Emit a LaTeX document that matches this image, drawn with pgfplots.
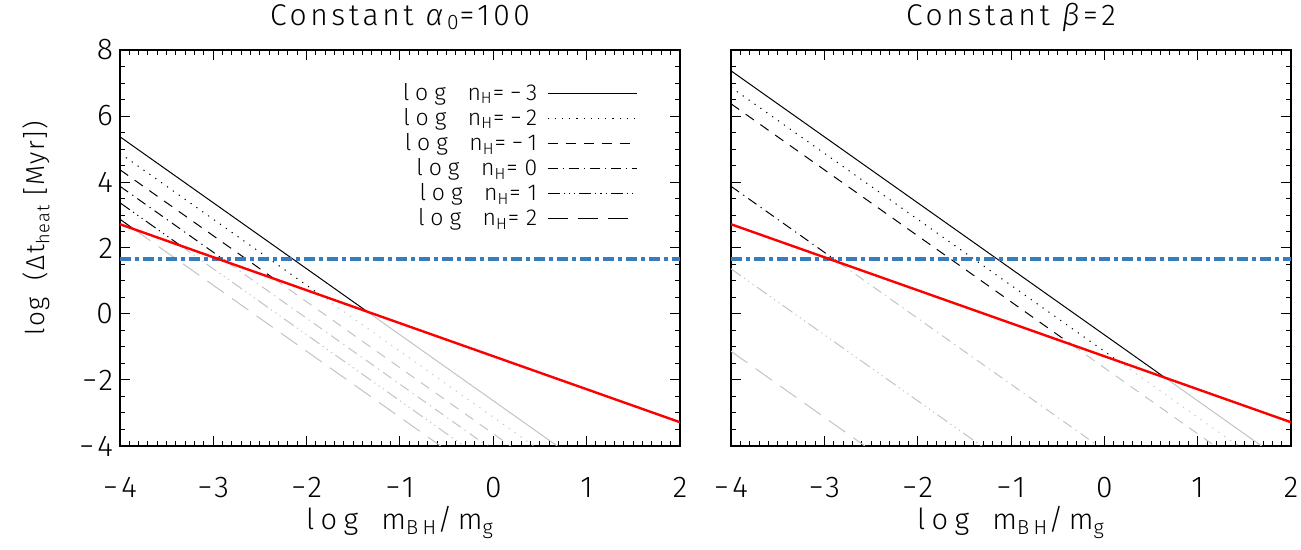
\documentclass[border=0pt]{standalone}
\usepackage{fontspec}
\setmainfont{Fira Sans}[UprightFont=* Light, ItalicFont=* Light Italic]
\newfontfamily\midspaced{Fira Sans}[UprightFont=* Light, ItalicFont=* Light Italic, LetterSpace=6]
\newfontfamily\spaced{Fira Sans}[UprightFont=* Light, ItalicFont=* Light Italic, LetterSpace=12]
\newfontfamily\legfont{Fira Sans}[UprightFont=* Light, ItalicFont=* Light Italic, LetterSpace=22]
\newfontfamily\keyfont{Fira Sans}[UprightFont=* Light, ItalicFont=* Light Italic, LetterSpace=26]
\usepackage{pgfplots}
\pgfplotsset{compat=1.18}
\definecolor{lgray}{RGB}{195,195,195}
\definecolor{idlblue}{RGB}{55,125,190}

\pgfplotsset{
  panel/.style={
    scale only axis, width=280pt, height=198pt,
    xmin=-4, xmax=2, ymin=-4, ymax=8,
    xtick={-4,...,2}, xticklabels={−4,−3,−2,−1,0,1,2},
    ytick={-4,-2,...,8},
    minor x tick num=9, minor y tick num=3,
    tick align=inside, major tick length=5pt, minor tick length=2.5pt,
    axis line style={line width=0.6pt},
    every tick/.style={black, line width=0.5pt},
    tick label style={font=\spaced\fontsize{15}{18}\selectfont},
    xticklabel style={yshift=-12pt},
    title style={font=\spaced\fontsize{15}{18}\selectfont, at={(0.5,1)}, anchor=base, yshift=6.5pt},
    xlabel={log\hspace{0.3em} m\textsubscript{BH}/m\textsubscript{g}},
    xlabel style={at={(axis description cs:0.5,0)}, anchor=base, yshift=-42pt,
      font=\legfont\fontsize{14.5}{17}\selectfont},
  },
  ls0/.style={solid},
  ls1/.style={dash pattern=on 0.6pt off 3pt},
  ls2/.style={dash pattern=on 5pt off 4pt},
  ls3/.style={dash pattern=on 5pt off 2.5pt on 0.6pt off 2.5pt},
  ls4/.style={dash pattern=on 6pt off 2pt on 0.6pt off 2pt on 0.6pt off 2pt on 0.6pt off 2pt},
  ls5/.style={dash pattern=on 10pt off 5pt},
  blk/.style={black, line width=0.5pt, no marks},
  gry/.style={lgray, line width=0.5pt, no marks},
  redl/.style={red, line width=1.2pt, no marks},
  bluel/.style={idlblue, line width=2pt, no marks, dash pattern=on 5.5pt off 2pt on 2pt off 2pt},
}

\begin{document}
\begin{tikzpicture}
% left panel: constant alpha_0
\begin{axis}[panel, at={(0,0)}, anchor=south west,
  title={Constant \textit{α}\textsubscript{0}=100},
  yticklabels={−4,−2,0,2,4,6,8},
  ylabel={log\hspace{0.3em} (Δt\textsubscript{heat} [Myr])},
  ylabel style={at={(axis description cs:-0.15,0.55)}, anchor=center,
    font=\midspaced\fontsize{13}{16}\selectfont},
  legend plot pos=right, legend cell align=right,
  legend image code/.code={\draw[#1] (0pt,0pt) -- (44.5pt,0pt);},
  legend style={draw=none, fill=none, at={(axis cs:1.61,7.25)}, anchor=north east,
    font=\keyfont\fontsize{11.5}{12}\selectfont, row sep=-1.5pt},
]
\addlegendimage{blk,ls0}\addlegendentry{log\hspace{0.4em} n\textsubscript{H}=−3\rule{3pt}{0pt}}
\addlegendimage{blk,ls1}\addlegendentry{log\hspace{0.4em} n\textsubscript{H}=−2\rule{3pt}{0pt}}
\addlegendimage{blk,ls2}\addlegendentry{log\hspace{0.4em} n\textsubscript{H}=−1\rule{3pt}{0pt}}
\addlegendimage{blk,ls3}\addlegendentry{log\hspace{0.4em} n\textsubscript{H}=\hspace{0.3em}0\rule{3pt}{0pt}}
\addlegendimage{blk,ls4}\addlegendentry{log\hspace{0.4em} n\textsubscript{H}=\hspace{0.3em}1\rule{3pt}{0pt}}
\addlegendimage{blk,ls5}\addlegendentry{log\hspace{0.4em} n\textsubscript{H}=\hspace{0.3em}2\rule{3pt}{0pt}}
% grey parts (below the red line)
\addplot[gry,ls0] coordinates {(-1.35,0.07) (0.685,-4)};
\addplot[gry,ls1] coordinates {(-1.85,0.57) (0.435,-4)};
\addplot[gry,ls2] coordinates {(-2.35,1.07) (0.185,-4)};
\addplot[gry,ls3] coordinates {(-2.85,1.57) (-0.065,-4)};
\addplot[gry,ls4] coordinates {(-3.35,2.07) (-0.315,-4)};
\addplot[gry,ls5] coordinates {(-3.85,2.57) (-0.565,-4)};
% black parts
\addplot[blk,ls0] coordinates {(-4,5.37) (-1.35,0.07)};
\addplot[blk,ls1] coordinates {(-4,4.87) (-1.85,0.57)};
\addplot[blk,ls2] coordinates {(-4,4.37) (-2.35,1.07)};
\addplot[blk,ls3] coordinates {(-4,3.87) (-2.85,1.57)};
\addplot[blk,ls4] coordinates {(-4,3.37) (-3.35,2.07)};
\addplot[blk,ls5] coordinates {(-4,2.87) (-3.85,2.57)};
\addplot[bluel] coordinates {(-4,1.66) (2,1.66)};
\addplot[redl] coordinates {(-4,2.72) (2,-3.28)};
\end{axis}

% right panel: constant beta
\begin{axis}[panel, at={(305.5pt,0)}, anchor=south west,
  title={Constant \textit{β}=2},
  yticklabels={},
]
\addplot[gry,ls0] coordinates {(0.65,-1.93) (1.685,-4)};
\addplot[gry,ls1] coordinates {(0.15,-1.43) (1.435,-4)};
\addplot[gry,ls2] coordinates {(-0.35,-0.93) (1.185,-4)};
\addplot[gry,ls3] coordinates {(-2.85,1.57) (-0.065,-4)};
\addplot[gry,ls4] coordinates {(-4,1.37) (-1.315,-4)};
\addplot[gry,ls5] coordinates {(-4,-1.13) (-2.565,-4)};
\addplot[blk,ls0] coordinates {(-4,7.37) (0.65,-1.93)};
\addplot[blk,ls1] coordinates {(-4,6.87) (0.15,-1.43)};
\addplot[blk,ls2] coordinates {(-4,6.37) (-0.35,-0.93)};
\addplot[blk,ls3] coordinates {(-4,3.87) (-2.85,1.57)};
\addplot[bluel] coordinates {(-4,1.66) (2,1.66)};
\addplot[redl] coordinates {(-4,2.72) (2,-3.28)};
\end{axis}
\pgfresetboundingbox
\path[use as bounding box] (-60pt,-52pt) rectangle (590.5pt,223pt);
\end{tikzpicture}
\end{document}
